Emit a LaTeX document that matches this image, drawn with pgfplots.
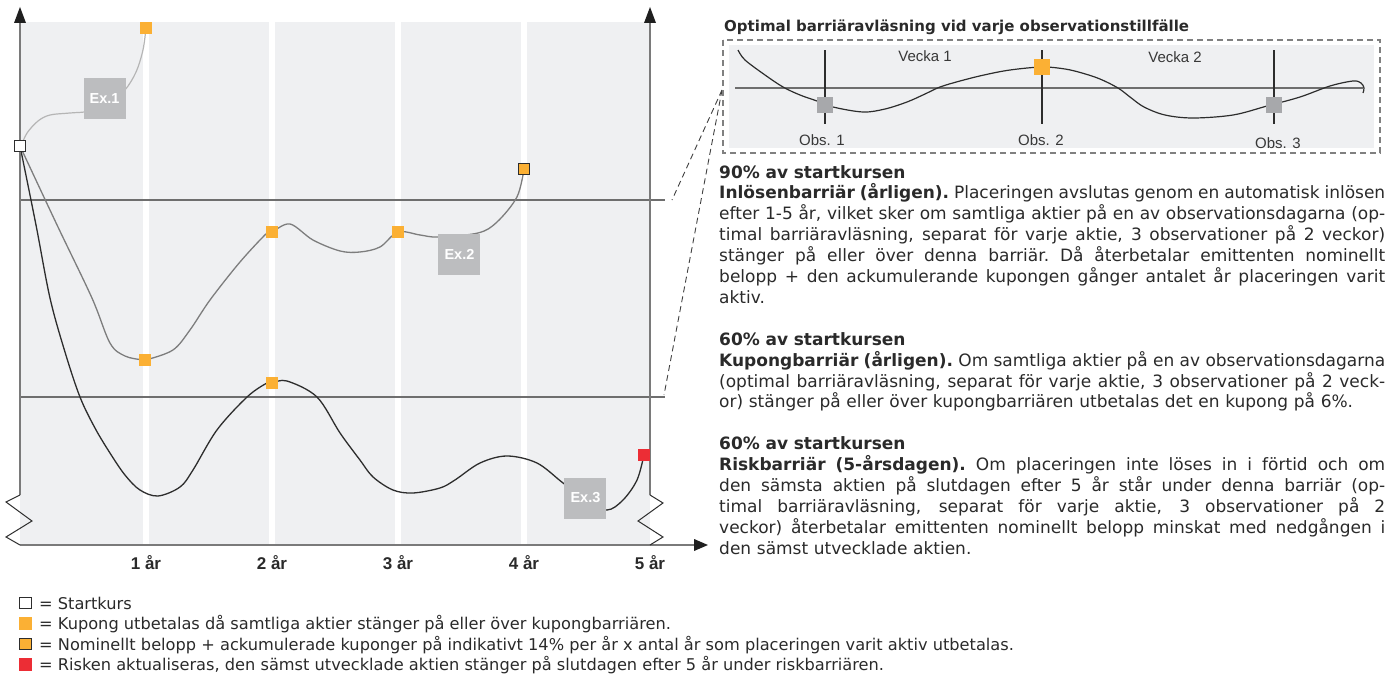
\documentclass[border=0pt]{standalone}
\usepackage{fontspec}
\setmainfont{Liberation Sans}
\newfontfamily\dv{DejaVu Sans}
\usepackage{pgfplots}
\pgfplotsset{compat=1.18}
\definecolor{bgc}{HTML}{EFF0F2}
\definecolor{orng}{HTML}{FBB034}
\definecolor{rd}{HTML}{EC2D35}
\definecolor{exg}{HTML}{BCBDBF}
\definecolor{sqg}{HTML}{A7A8AB}
\definecolor{barr}{HTML}{6E6E6E}
\definecolor{axg}{HTML}{7A7A7A}
\definecolor{cone}{HTML}{B5B5B5}
\definecolor{ctwo}{HTML}{7D7D7D}
\definecolor{cthree}{HTML}{2D2D2D}
\definecolor{txt}{HTML}{2A2A2A}
\newcommand\jl[1]{\hbox to 666pt{\spaceskip=0.3em plus 1fil minus 0.1em\xspaceskip=\spaceskip #1}\par}
\begin{document}
\begin{tikzpicture}
\path[use as bounding box] (0,0) rectangle (1392pt,675pt);
% ---------------- main chart (x: years, y: height above x axis in px)
\begin{axis}[
  at={(20pt,130pt)}, anchor=south west,
  scale only axis, width=630pt, height=523pt,
  xmin=0, xmax=5, ymin=0, ymax=523,
  clip=false,
  axis line style={draw=none},
  major tick length=0pt,
  ytick=\empty,
  xtick={1,2,3,4,5},
  xticklabels={1 år,2 år,3 år,4 år,5 år},
  xticklabel style={anchor=center, yshift=-18pt, font=\bfseries\fontsize{17}{17}\selectfont, text=txt},
]
\fill[bgc] (axis cs:0,0) rectangle (axis cs:5,523);
\fill[white] (axis cs:0.976,0) rectangle (axis cs:1.024,523);
\fill[white] (axis cs:1.976,0) rectangle (axis cs:2.024,523);
\fill[white] (axis cs:2.976,0) rectangle (axis cs:3.024,523);
\fill[white] (axis cs:3.976,0) rectangle (axis cs:4.024,523);
% barriers
\draw[barr, line width=1.8pt] (axis cs:0,345) -- (axis cs:5.119,345);
\draw[barr, line width=1.8pt] (axis cs:0,148) -- (axis cs:5.119,148);
% Ex.1
\addplot[cone, line width=1.2pt, smooth, tension=0.55] coordinates {
(0.008,399) (0.056,412) (0.143,424) (0.238,430) (0.397,432) (0.556,434)
(0.714,443) (0.833,455) (0.921,473) (0.976,495) (1.0,517)};
% Ex.2
\addplot[ctwo, line width=1.3pt, smooth, tension=0.55] coordinates {
(0,399) (0.294,320) (0.571,247) (0.714,202) (0.833,189) (0.976,185) (1.0,185)
(1.214,195) (1.349,215) (1.508,245) (1.746,283) (1.960,312) (2.0,313)
(2.143,321) (2.325,305) (2.540,294) (2.698,293) (2.857,298) (3.0,313)
(3.175,310) (3.317,308) (3.635,312) (3.786,323) (3.944,348) (4.0,376)};
% Ex.3
\addplot[cthree, line width=1.3pt, smooth, tension=0.55] coordinates {
(0,399) (0.127,320) (0.238,247) (0.357,193) (0.476,148) (0.595,117) (0.714,92)
(0.833,70) (0.952,55) (1.095,49) (1.270,58) (1.373,75) (1.563,115) (1.802,148)
(1.960,162) (2.0,162) (2.119,164) (2.357,148) (2.540,112) (2.698,85) (2.802,68)
(2.960,55) (3.119,52) (3.333,57) (3.452,65) (3.651,82) (3.865,89) (4.103,82)
(4.310,62) (4.5,45) (4.659,35) (4.786,45) (4.897,65) (4.952,90)};
% markers
\addplot[orng, only marks, mark=square*, mark size=5.6pt, line width=0.8pt]
 coordinates {(1,517) (0.99,185) (2,313) (3,313) (2,162)};
\addplot[cthree, only marks, mark=square*, mark size=5.5pt, line width=1pt, mark options={fill=orng}]
 coordinates {(4,376)};
\addplot[rd, only marks, mark=square*, mark size=5.6pt, line width=0.8pt]
 coordinates {(4.952,90)};
\addplot[cthree, only marks, mark=square*, mark size=5.5pt, line width=1.1pt, mark options={fill=white}]
 coordinates {(0,399)};
% example boxes
\tikzset{exbox/.style={fill=exg, minimum width=42pt, minimum height=41pt, inner sep=0pt, text=white, font=\bfseries\fontsize{14.5}{14.5}\selectfont}}
\node[exbox] at (axis cs:0.671,446) {Ex.1};
\node[exbox] at (axis cs:3.488,290.5) {Ex.2};
\node[exbox] at (axis cs:4.488,47) {Ex.3};
% axes
\draw[axg, line width=1.8pt] (axis cs:0,50) -- (axis cs:0,523);
\draw[axg, line width=1.8pt] (axis cs:5,50) -- (axis cs:5,523);
\draw[axg, line width=1.8pt] (axis cs:0,0) -- (axis cs:5.36,0);
\fill[black!88] (axis cs:-0.0476,522) -- (axis cs:0.0476,522) -- (axis cs:0,538) -- cycle;
\fill[black!88] (axis cs:4.9524,522) -- (axis cs:5.0476,522) -- (axis cs:5,538) -- cycle;
\fill[black!88] (axis cs:5.35,6) -- (axis cs:5.35,-6) -- (axis cs:5.46,0) -- cycle;
\draw[cthree, line width=1pt] (axis cs:0,50) -- (axis cs:-0.111,43) -- (axis cs:0.095,24) -- (axis cs:-0.111,8) -- (axis cs:0,0);
\draw[cthree, line width=1pt] (axis cs:5,50) -- (axis cs:5.103,42) -- (axis cs:4.905,24) -- (axis cs:5.103,8) -- (axis cs:5,0);
\end{axis}
% ---------------- page layer (x,y in reference pixels, y downwards)
\begin{axis}[
  at={(0pt,0pt)}, anchor=south west,
  scale only axis, width=1392pt, height=675pt,
  xmin=0, xmax=1392, ymin=0, ymax=675, y dir=reverse,
  hide axis, clip=false,
]
% connectors
\draw[black!75, line width=0.9pt, dash pattern=on 6pt off 4pt] (axis cs:722,90) -- (axis cs:672,200);
\draw[black!75, line width=0.9pt, dash pattern=on 6pt off 4pt] (axis cs:722,90) -- (axis cs:664,395);
% inset
\draw[black!50, line width=1.2pt, dash pattern=on 6pt off 4pt] (axis cs:723,40) rectangle (axis cs:1380,153);
\fill[bgc] (axis cs:729,45) rectangle (axis cs:1374,148);
\draw[barr, line width=1.6pt] (axis cs:735,88) -- (axis cs:1363,88);
\draw[cthree, line width=1.1pt] (axis cs:825,50) -- (axis cs:825,124);
\draw[cthree, line width=1.1pt] (axis cs:1042,50) -- (axis cs:1042,124);
\draw[cthree, line width=1.1pt] (axis cs:1274,50) -- (axis cs:1274,124);
\addplot[cthree, line width=1.2pt, smooth, tension=0.55] coordinates {
(738,50) (745,60) (765,75) (783,87) (800,95) (817,101) (833,107) (863,112) (885,109)
(907,102) (925,94) (940,87) (960,81) (984,75) (1010,70) (1042,67) (1065,69)
(1082,73) (1100,79) (1118,88) (1130,97) (1144,107) (1165,115) (1193,118)
(1233,115) (1267,106) (1300,97) (1330,86) (1353,81) (1361,83) (1364,88) (1363,93)};
\addplot[sqg, only marks, mark=square*, mark size=7.6pt, line width=0.8pt]
 coordinates {(825,105) (1274,105)};
\addplot[orng, only marks, mark=square*, mark size=7.6pt, line width=0.8pt]
 coordinates {(1042,67)};
\tikzset{insl/.style={text=black!78, font=\fontsize{15}{15}\selectfont, inner sep=0pt}}
\node[insl] at (axis cs:925,56) {Vecka 1};
\node[insl] at (axis cs:1175,57) {Vecka 2};
\node[insl] at (axis cs:822,140) {Obs. 1};
\node[insl] at (axis cs:1041,140) {Obs. 2};
\node[insl] at (axis cs:1278,143) {Obs. 3};
% title
\node[anchor=base west, inner sep=0pt, text=txt, font=\dv\bfseries\fontsize{15}{15}\selectfont] at (axis cs:724,31)
 {Optimal barriäravläsning vid varje observationstillfälle};
% right text
\node[anchor=base west, inner sep=0pt, text width=666pt, text=txt, font=\dv\fontsize{17}{20.9}\selectfont] at (axis cs:719,178) {%
\parindent=0pt\parskip=0pt
\textbf{90\% av startkursen}\par
\jl{\textbf{Inlösenbarriär (årligen).} Placeringen avslutas genom en automatisk inlösen}
\jl{efter 1-5 år, vilket sker om samtliga aktier på en av observationsdagarna (op-}
\jl{timal barriäravläsning, separat för varje aktie, 3 observationer på 2 veckor)}
\jl{stänger på eller över denna barriär. Då återbetalar emittenten nominellt}
\jl{belopp + den ackumulerande kupongen gånger antalet år placeringen varit}
aktiv.\par
\vspace{20.9pt}
\textbf{60\% av startkursen}\par
\jl{\textbf{Kupongbarriär (årligen).} Om samtliga aktier på en av observationsdagarna}
\jl{(optimal barriäravläsning, separat för varje aktie, 3 observationer på 2 veck-}
or) stänger på eller över kupongbarriären utbetalas det en kupong på 6\%.\par
\vspace{20.9pt}
\textbf{60\% av startkursen}\par
\jl{\textbf{Riskbarriär (5-årsdagen).} Om placeringen inte löses in i förtid och om}
\jl{den sämsta aktien på slutdagen efter 5 år står under denna barriär (op-}
\jl{timal barriäravläsning, separat för varje aktie, 3 observationer på 2}
\jl{veckor) återbetalar emittenten nominellt belopp minskat med nedgången i}
den sämst utvecklade aktien.\par};
% legend
\addplot[cthree, only marks, mark=square*, mark size=5.6pt, line width=1.1pt, mark options={fill=white}] coordinates {(25.5,603)};
\addplot[orng, only marks, mark=square*, mark size=6pt, line width=0.6pt] coordinates {(25.5,623.5)};
\addplot[cthree, only marks, mark=square*, mark size=5.6pt, line width=1.1pt, mark options={fill=orng}] coordinates {(25.5,644)};
\addplot[rd, only marks, mark=square*, mark size=6pt, line width=0.6pt] coordinates {(25.5,664.5)};
\tikzset{legt/.style={anchor=base west, inner sep=0pt, text=txt, font=\dv\fontsize{16.2}{16.2}\selectfont}}
\node[legt] at (axis cs:39,609) {= Startkurs};
\node[legt] at (axis cs:39,629.5) {= Kupong utbetalas då samtliga aktier stänger på eller över kupongbarriären.};
\node[legt] at (axis cs:39,650) {= Nominellt belopp + ackumulerade kuponger på indikativt 14\% per år x antal år som placeringen varit aktiv utbetalas.};
\node[legt] at (axis cs:39,670.5) {= Risken aktualiseras, den sämst utvecklade aktien stänger på slutdagen efter 5 år under riskbarriären.};
\end{axis}
\end{tikzpicture}
\end{document}
